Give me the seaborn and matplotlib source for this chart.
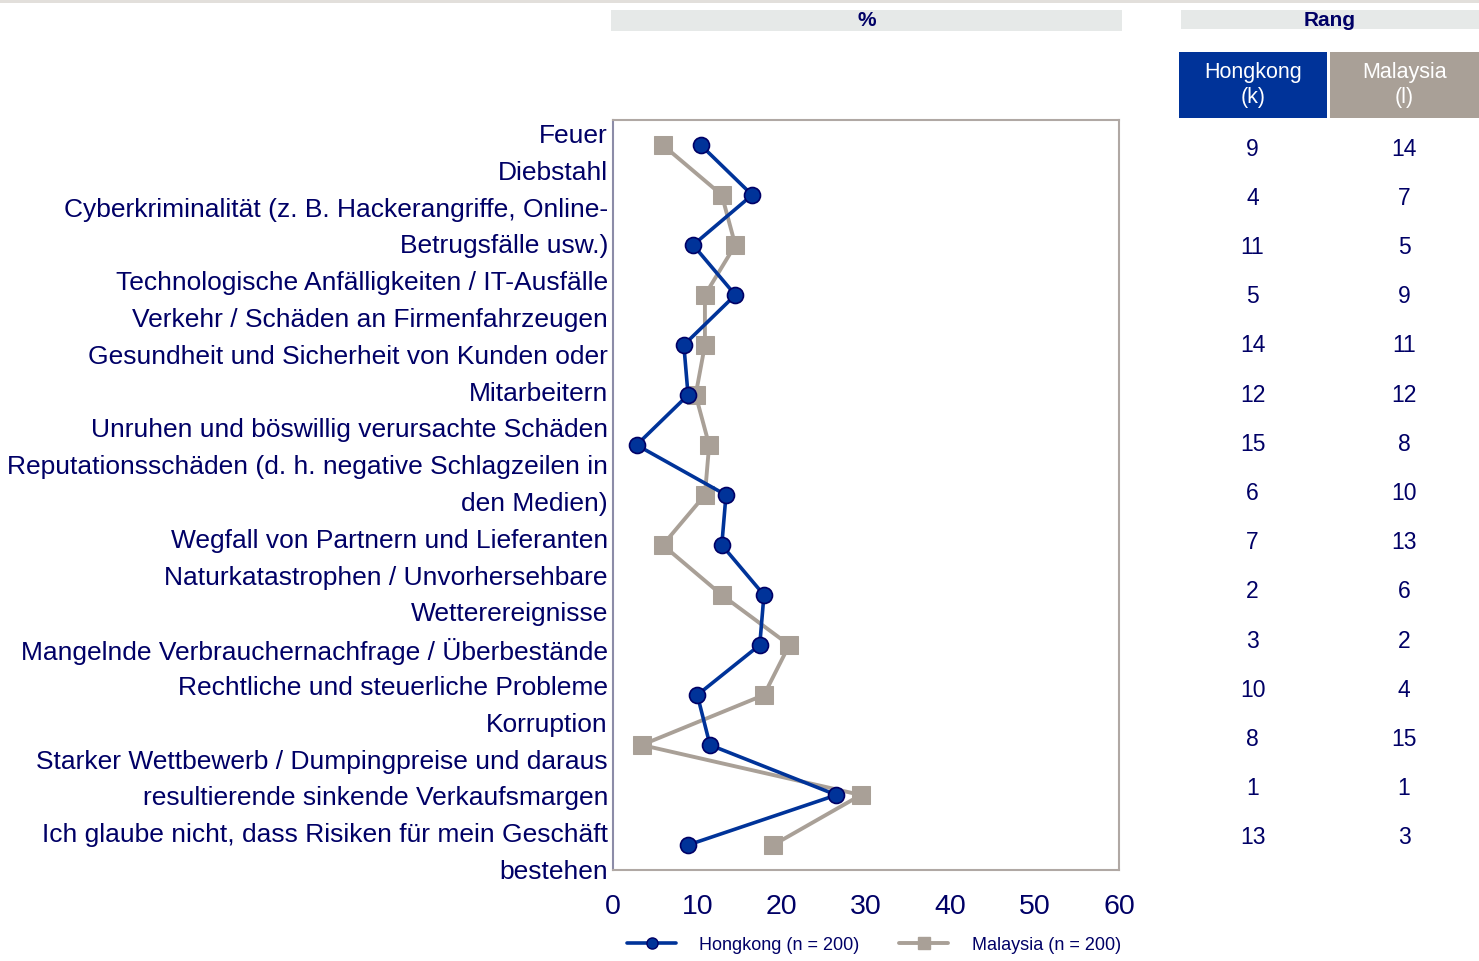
import numpy as np
import pandas as pd
import matplotlib.pyplot as plt
import seaborn as sns
from matplotlib.patches import Rectangle
from matplotlib.lines import Line2D

categories = [
    "Feuer",
    "Diebstahl",
    "Cyberkriminalität (z. B. Hackerangriffe, Online-\nBetrugsfälle usw.)",
    "Technologische Anfälligkeiten / IT-Ausfälle",
    "Verkehr / Schäden an Firmenfahrzeugen",
    "Gesundheit und Sicherheit von Kunden oder\nMitarbeitern",
    "Unruhen und böswillig verursachte Schäden",
    "Reputationsschäden (d. h. negative Schlagzeilen in\nden Medien)",
    "Wegfall von Partnern und Lieferanten",
    "Naturkatastrophen / Unvorhersehbare\nWetterereignisse",
    "Mangelnde Verbrauchernachfrage / Überbestände",
    "Rechtliche und steuerliche Probleme",
    "Korruption",
    "Starker Wettbewerb / Dumpingpreise und daraus\nresultierende sinkende Verkaufsmargen",
    "Ich glaube nicht, dass Risiken für mein Geschäft\nbestehen",
]
hongkong = [10.4, 16.5, 9.5, 14.5, 8.4, 8.9, 2.8, 13.4, 12.9, 17.9, 17.4, 10.0, 11.5, 26.5, 8.9]
malaysia = [5.9, 12.9, 14.5, 10.9, 10.9, 9.8, 11.4, 10.9, 5.9, 12.9, 20.9, 17.9, 3.4, 29.4, 19.0]
rank_hk = [9, 4, 11, 5, 14, 12, 15, 6, 7, 2, 3, 10, 8, 1, 13]
rank_my = [14, 7, 5, 9, 11, 12, 8, 10, 13, 6, 2, 4, 15, 1, 3]
series_names = ["Hongkong (n = 200)", "Malaysia (n = 200)"]
x_ticks = [0, 10, 20, 30, 40, 50, 60]

NAVY = "#000066"
BLUE = "#003399"
GREY = "#a9a097"

sns.set_theme(style="white")
plt.rcParams["font.family"] = ["Liberation Sans", "DejaVu Sans"]

W, H = 1479, 961
fig = plt.figure(figsize=(W / 100, H / 100), dpi=100)


def fbox(x0, y0, x1, y1):
    # pixel box (top-left origin) -> figure fraction rect
    return [x0 / W, 1 - y1 / H, (x1 - x0) / W, (y1 - y0) / H]


ax = fig.add_axes(fbox(613, 120, 1119, 870))

df = pd.DataFrame({
    "pos": list(range(len(categories))) * 2,
    "value": hongkong + malaysia,
    "country": [series_names[0]] * len(hongkong) + [series_names[1]] * len(malaysia),
})

sns.lineplot(data=df[df.country == series_names[1]], x="value", y="pos", sort=False, orient="y",
             color=GREY, lw=2.8, marker="s", markersize=13, markeredgecolor=GREY, ax=ax, legend=False)
sns.lineplot(data=df[df.country == series_names[0]], x="value", y="pos", sort=False, orient="y",
             color=BLUE, lw=2.6, marker="o", markersize=11.5, markeredgecolor=NAVY,
             markeredgewidth=1.2, ax=ax, legend=False)

ax.set_xlim(0, 60)
ax.set_ylim(len(categories) - 0.5, -0.5)
ax.set_xticks(x_ticks)
ax.set_xticklabels([str(t) for t in x_ticks], fontsize=20.5, color=NAVY)
ax.tick_params(axis="x", length=0, pad=17)
ax.set_yticks([])
ax.set_xlabel("")
ax.set_ylabel("")
for s in ax.spines.values():
    s.set_color("#b0a8a4")
    s.set_linewidth(1.5)
ax.spines["left"].set_color("#8c8ca8")

# wrapped category labels, evenly spaced lines
lines = [ln for c in categories for ln in c.split("\n")]
ys = np.linspace(136, 872, len(lines))
for ln, y in zip(lines, ys):
    fig.text(608 / W, 1 - y / H, ln, ha="right", va="center", fontsize=19, color=NAVY)

# header bars
fig.add_artist(Rectangle((0, 1 - 2.5 / H), 1, 2.5 / H, transform=fig.transFigure,
                         color="#e2dfdb", lw=0))
r = fbox(611, 10, 1122, 31)
fig.add_artist(Rectangle(r[:2], r[2], r[3], transform=fig.transFigure, color="#e6e9e8", lw=0))
fig.text((611 + 1122) / 2 / W, 1 - 21 / H, "%", ha="center", va="center",
         fontsize=15, fontweight="bold", color=NAVY)
r = fbox(1181, 10, 1479, 29)
fig.add_artist(Rectangle(r[:2], r[2], r[3], transform=fig.transFigure, color="#e6e9e8", lw=0))
fig.text((1181 + 1479) / 2 / W, 1 - 20 / H, "Rang", ha="center", va="center",
         fontsize=15, fontweight="bold", color=NAVY)

for (x0, x1), col, name in [((1179, 1327), BLUE, "Hongkong\n(k)"), ((1330, 1479), GREY, "Malaysia\n(l)")]:
    r = fbox(x0, 52, x1, 118)
    fig.add_artist(Rectangle(r[:2], r[2], r[3], transform=fig.transFigure, color=col, lw=0))
    fig.text((x0 + x1) / 2 / W, 1 - 85 / H, name, ha="center", va="center",
             fontsize=15.5, color="white", linespacing=1.2)

# rank table
rax = fig.add_axes(fbox(1179, 124.4, 1479, 862.6))
rax.set_xlim(0, 2)
rax.set_ylim(len(categories) - 0.5, -0.5)
rax.axis("off")
for i, (a, b) in enumerate(zip(rank_hk, rank_my)):
    rax.text(0.49, i, str(a), ha="center", va="center", fontsize=16.5, color=NAVY)
    rax.text(1.5, i, str(b), ha="center", va="center", fontsize=16.5, color=NAVY)

# legend
handles = [
    Line2D([], [], color=BLUE, lw=2.6, marker="o", markersize=8, markeredgecolor=NAVY),
    Line2D([], [], color=GREY, lw=2.8, marker="s", markersize=8, markeredgecolor=GREY),
]
leg = fig.legend(handles, series_names, loc="center", bbox_to_anchor=(874 / W, 1 - 945 / H),
                 ncol=2, frameon=False, fontsize=13, handlelength=2.7, columnspacing=2.2,
                 handletextpad=1.3)
for t in leg.get_texts():
    t.set_color(NAVY)

fig.savefig("out.png", dpi=100)
